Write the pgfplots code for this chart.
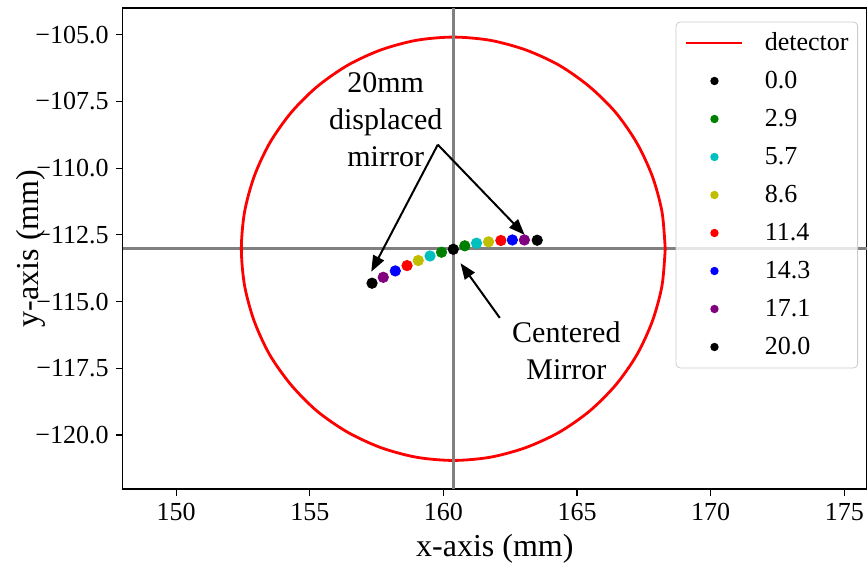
\documentclass[border=0pt]{standalone}
\usepackage{pgfplots}
\pgfplotsset{compat=1.18}
\usepackage{fontspec}
\setmainfont{Liberation Serif}
\usetikzlibrary{arrows.meta,calc}
\definecolor{mgreen}{rgb}{0,0.5,0}
\definecolor{mcyan}{rgb}{0,0.75,0.75}
\definecolor{myellow}{rgb}{0.75,0.75,0}
\definecolor{mpurple}{rgb}{0.5,0,0.5}
\pgfplotsset{
  dotleg/.style={legend image code/.code={\path[draw=none,fill=none] (0pt,0pt) -- (28pt,0pt); \fill[draw=none, fill=#1, fill opacity=1] (14pt,0pt) circle (2.1pt);}},
}
\begin{document}
\begin{tikzpicture}
\begin{axis}[
  width=372.15pt, height=240.5pt, scale only axis,
  xmin=148, xmax=175.85, ymin=-122.02, ymax=-104,
  xtick={150,155,160,165,170,175},
  ytick={-120,-117.5,-115,-112.5,-110,-107.5,-105},
  yticklabels={−120.0,−117.5,−115.0,−112.5,−110.0,−107.5,−105.0},
  tick align=outside, xtick pos=bottom, ytick pos=left,
  major tick length=3.5pt,
  tick style={black, line width=0.6pt},
  axis line style={line width=0.6pt},
  /pgf/number format/assume math mode=true,
  ticklabel style={font=\rmfamily\fontsize{13}{15}\selectfont},
  xlabel={x-axis (mm)}, ylabel={y-axis (mm)},
  label style={font=\rmfamily\fontsize{16}{19}\selectfont},
  ylabel shift=-12pt,
  legend cell align=left,
  legend style={at={(rel axis cs:1,1)}, anchor=north east, xshift=-4.5pt, yshift=-6.85pt,
    draw=black!20, rounded corners=2pt, fill=white, fill opacity=0.8, text opacity=1, draw opacity=1,
    font=\rmfamily\fontsize{13}{15}\selectfont, inner xsep=4.5pt, inner ysep=4.2pt, row sep=6.5pt,
    nodes={inner sep=0pt, text height=10pt, text depth=2.5pt},
    /tikz/every odd column/.append style={column sep=10.5pt}},
]
% horizontal reference line
\addplot[gray, line width=1.5pt, forget plot] coordinates {(148,-113.02) (175.85,-113.02)};
% detector circle
\addplot[red, line width=1.4pt, smooth,
  legend image code/.code={\draw[red, line width=1.4pt, draw opacity=1] (0pt,0pt) -- (28pt,0pt);}]
 coordinates {
(168.30,-113.02) (168.18,-111.64) (167.82,-110.31) (167.24,-109.06) (166.45,-107.92)
(165.47,-106.95) (164.34,-106.15) (163.08,-105.57) (161.75,-105.21) (160.37,-105.09)
(158.99,-105.21) (157.66,-105.57) (156.41,-106.15) (155.27,-106.95) (154.30,-107.92)
(153.50,-109.06) (152.92,-110.31) (152.56,-111.64) (152.44,-113.02) (152.56,-114.40)
(152.92,-115.73) (153.50,-116.99) (154.30,-118.12) (155.27,-119.10) (156.41,-119.89)
(157.66,-120.47) (158.99,-120.83) (160.37,-120.95) (161.75,-120.83) (163.08,-120.47)
(164.34,-119.89) (165.47,-119.10) (166.45,-118.12) (167.24,-116.99) (167.82,-115.73)
(168.18,-114.40) (168.30,-113.02)};
\addlegendentry{detector}
% vertical reference line
\addplot[gray, line width=1.5pt, forget plot] coordinates {(160.37,-122.02) (160.37,-104)};
% mirror positions
\addplot[only marks, mark=*, mark size=2.6pt, color=black, dotleg=black]
 coordinates {(160.37,-113.04)};
\addlegendentry{0.0}
\addplot[only marks, mark=*, mark size=2.6pt, color=mgreen, dotleg=mgreen]
 coordinates {(159.93,-113.15) (160.80,-112.91)};
\addlegendentry{2.9}
\addplot[only marks, mark=*, mark size=2.6pt, color=mcyan, dotleg=mcyan]
 coordinates {(159.50,-113.29) (161.24,-112.81)};
\addlegendentry{5.7}
\addplot[only marks, mark=*, mark size=2.6pt, color=myellow, dotleg=myellow]
 coordinates {(159.06,-113.46) (161.69,-112.76)};
\addlegendentry{8.6}
\addplot[only marks, mark=*, mark size=2.6pt, color=red, dotleg=red]
 coordinates {(158.64,-113.65) (162.15,-112.71)};
\addlegendentry{11.4}
\addplot[only marks, mark=*, mark size=2.6pt, color=blue, dotleg=blue]
 coordinates {(158.20,-113.85) (162.58,-112.69)};
\addlegendentry{14.3}
\addplot[only marks, mark=*, mark size=2.6pt, color=mpurple, dotleg=mpurple]
 coordinates {(157.75,-114.09) (163.03,-112.69)};
\addlegendentry{17.1}
\addplot[only marks, mark=*, mark size=2.6pt, color=black, dotleg=black]
 coordinates {(157.33,-114.31) (163.51,-112.70)};
\addlegendentry{20.0}
% annotations
\node[align=center, font=\rmfamily\fontsize{15}{18.5}\selectfont] at (axis cs:157.84,-108.19) {20mm\\displaced\\mirror};
\draw[-{Triangle[length=8pt,width=6pt]}, line width=1pt] (axis cs:159.79,-109.12) -- (axis cs:157.30,-113.88);
\draw[-{Triangle[length=8pt,width=6pt]}, line width=1pt] (axis cs:159.79,-109.12) -- (axis cs:163.04,-112.50);
\node[align=center, font=\rmfamily\fontsize{15}{18.5}\selectfont] at (axis cs:164.60,-116.85) {Centered\\Mirror};
\draw[-{Triangle[length=8pt,width=6pt]}, line width=1pt] (axis cs:162.11,-115.61) -- (axis cs:160.64,-113.56);
\end{axis}
\pgfresetboundingbox
\path[use as bounding box] ($(current axis.south west)+(-61.35pt,-37pt)$) rectangle ($(current axis.north east)+(0pt,4pt)$);
\end{tikzpicture}
\end{document}
